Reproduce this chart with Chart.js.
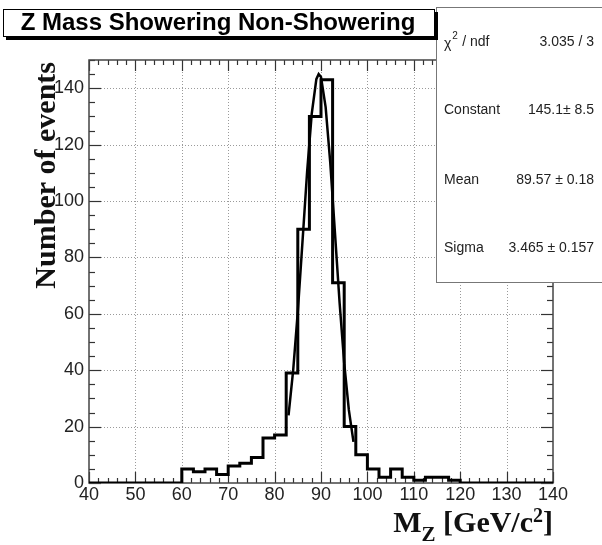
<!DOCTYPE html>
<html><head><meta charset="utf-8">
<script src="https://cdn.jsdelivr.net/npm/chart.js@4/dist/chart.umd.min.js"></script>
<style>html,body{margin:0;padding:0;background:#fff;}canvas{display:block;}</style>
</head><body>
<canvas id="c" width="602" height="545"></canvas>
<script>
// ---- data ----
const binEdges = [40,42.5,45,47.5,50,52.5,55,57.5,60,62.5,65,67.5,70,72.5,75,77.5,80,82.5,85,87.5,90,92.5,95,97.5,100,102.5,105,107.5,110,112.5,115,117.5,120,122.5,125,127.5,130,132.5,135,137.5,140];
const counts   = [0,0,0,0,0,0,0,0,5,4,5,3,6,7,9,16,17,39,90,130,143,71,20,10,5,2,5,2,1,2,2,1,0,0,0,0,0,0,0,0];
const fitMass   = [83,84,85,86,87,88,89,89.5,90,91,92,93,94,95,96,97];
const fitValues = [24.0,39.9,60.8,85.3,110.2,130.9,143.2,145.0,144.0,133.3,113.5,88.9,64.1,42.5,25.9,14.6];
const xTickLabels = [40,50,60,70,80,90,100,110,120,130,140];
const yTickLabels = [0,20,40,60,80,100,120,140];
const titleText = "Z Mass Showering Non-Showering";
const statsNames  = ["χ", "Constant", "Mean", "Sigma"];
const statsValues = ["3.035 / 3", "145.1\u00b1 8.5", "89.57 \u00b1 0.18", "3.465 \u00b1 0.157"];

// ---- build datasets ----
const histPoints = binEdges.map((e, i) => ({x: e, y: i < counts.length ? counts[i] : counts[counts.length - 1]}));
const fitPoints = fitMass.map((m, i) => ({x: m, y: fitValues[i]}));

const SANS = '"Liberation Sans", Arial, Helvetica, sans-serif';
const SERIF = '"Liberation Serif", "Times New Roman", serif';

const rootDecor = {
  id: 'rootDecor',
  beforeDatasetsDraw(chart) {
    const {ctx, chartArea: a, scales: {x, y}} = chart;
    ctx.save();
    // dotted grid
    ctx.strokeStyle = '#9a9a9a';
    ctx.lineWidth = 1;
    ctx.setLineDash([1, 2]);
    xTickLabels.forEach(v => {
      if (v === x.min || v === x.max) return;
      const px = Math.round(x.getPixelForValue(v)) + 0.5;
      ctx.beginPath(); ctx.moveTo(px, a.top); ctx.lineTo(px, a.bottom); ctx.stroke();
    });
    yTickLabels.forEach(v => {
      if (v === y.min) return;
      const py = Math.round(y.getPixelForValue(v)) + 0.5;
      ctx.beginPath(); ctx.moveTo(a.left, py); ctx.lineTo(a.right, py); ctx.stroke();
    });
    ctx.setLineDash([]);
    // ticks
    ctx.strokeStyle = '#333';
    ctx.lineWidth = 1.2;
    const xMajor = xTickLabels[1] - xTickLabels[0];
    const xMinor = xMajor / 5;
    for (let v = x.min; v <= x.max + 1e-9; v += xMinor) {
      const isMaj = Math.abs(v / xMajor - Math.round(v / xMajor)) < 1e-6;
      const len = isMaj ? 11 : 5;
      const px = Math.round(x.getPixelForValue(v)) + 0.5;
      ctx.beginPath(); ctx.moveTo(px, a.bottom); ctx.lineTo(px, a.bottom - len); ctx.stroke();
      ctx.beginPath(); ctx.moveTo(px, a.top); ctx.lineTo(px, a.top + len); ctx.stroke();
    }
    const yMajor = yTickLabels[1] - yTickLabels[0];
    const yMinor = yMajor / 4;
    for (let v = y.min; v <= y.max + 1e-9; v += yMinor) {
      const isMaj = Math.abs(v / yMajor - Math.round(v / yMajor)) < 1e-6;
      const len = isMaj ? 12 : 6;
      const py = Math.round(y.getPixelForValue(v)) + 0.5;
      ctx.beginPath(); ctx.moveTo(a.left, py); ctx.lineTo(a.left + len, py); ctx.stroke();
      ctx.beginPath(); ctx.moveTo(a.right, py); ctx.lineTo(a.right - len, py); ctx.stroke();
    }
    // frame
    ctx.strokeStyle = '#444';
    ctx.lineWidth = 1.5;
    ctx.strokeRect(a.left, a.top, a.right - a.left, a.bottom - a.top);
    ctx.restore();
  },
  afterDraw(chart) {
    const {ctx} = chart;
    ctx.save();
    // stats box
    ctx.fillStyle = '#fff';
    ctx.fillRect(436, 7, 200, 275);
    ctx.strokeStyle = '#777';
    ctx.lineWidth = 1;
    ctx.strokeRect(436.5, 7.5, 200, 275);
    ctx.fillStyle = '#222';
    ctx.textBaseline = 'middle';
    const rowsY = [42, 110, 180, 248];
    statsNames.forEach((n, i) => {
      ctx.font = '14px ' + SANS;
      ctx.textAlign = 'left';
      if (i === 0) {
        ctx.fillText(n, 444, rowsY[i] + 2);
        const w = ctx.measureText(n).width;
        ctx.font = '10px ' + SANS;
        ctx.fillText('2', 444 + w + 1, rowsY[i] - 6);
        ctx.font = '14px ' + SANS;
        ctx.fillText(' / ndf', 444 + w + 7, rowsY[i]);
      } else {
        ctx.fillText(n, 444, rowsY[i]);
      }
      ctx.textAlign = 'right';
      ctx.fillText(statsValues[i], 594, rowsY[i]);
    });
    // title box with shadow
    ctx.fillStyle = '#000';
    ctx.fillRect(6, 12, 432, 28);
    ctx.fillStyle = '#fff';
    ctx.fillRect(3, 9, 432, 28);
    ctx.strokeStyle = '#000';
    ctx.lineWidth = 1;
    ctx.strokeRect(3.5, 9.5, 431, 27);
    ctx.fillStyle = '#000';
    ctx.font = 'bold 24px ' + SANS;
    ctx.textAlign = 'center';
    ctx.textBaseline = 'middle';
    ctx.fillText(titleText, 218, 23);
    // y axis title
    ctx.save();
    ctx.translate(55, 62);
    ctx.rotate(-Math.PI / 2);
    ctx.font = 'bold 30px ' + SERIF;
    ctx.textAlign = 'right';
    ctx.textBaseline = 'alphabetic';
    ctx.fillStyle = '#111';
    ctx.fillText('Number of events', 0, 0);
    ctx.restore();
    // x axis title: M_Z [GeV/c^2]
    const parts = [
      {t: 'M', f: 'bold 30px ' + SERIF, dy: 0},
      {t: 'Z', f: 'bold 21px ' + SERIF, dy: 9},
      {t: ' [GeV/c', f: 'bold 30px ' + SERIF, dy: 0},
      {t: '2', f: 'bold 20px ' + SERIF, dy: -10},
      {t: ']', f: 'bold 30px ' + SERIF, dy: 0}
    ];
    let total = 0;
    parts.forEach(p => { ctx.font = p.f; p.w = ctx.measureText(p.t).width; total += p.w; });
    let cx = 553 - total;
    ctx.textAlign = 'left';
    ctx.textBaseline = 'alphabetic';
    ctx.fillStyle = '#111';
    parts.forEach(p => { ctx.font = p.f; ctx.fillText(p.t, cx, 532 + p.dy); cx += p.w; });
    ctx.restore();
  }
};

new Chart(document.getElementById('c').getContext('2d'), {
  type: 'line',
  data: {
    datasets: [
      {label: 'hist', data: histPoints, stepped: 'before', borderColor: '#000', borderWidth: 3,
       pointRadius: 0, fill: false, borderJoinStyle: 'miter'},
      {label: 'fit', data: fitPoints, borderColor: '#000', borderWidth: 2.5, pointRadius: 0,
       fill: false, tension: 0}
    ]
  },
  options: {
    responsive: false,
    animation: false,
    events: [],
    layout: {padding: {left: 0, top: 60, right: 49, bottom: 0}},
    plugins: {legend: {display: false}, tooltip: {enabled: false}, title: {display: false}},
    scales: {
      x: {
        type: 'linear', min: 40, max: 140,
        afterBuildTicks: s => { s.ticks = xTickLabels.map(v => ({value: v})); },
        afterFit: s => { s.height = 62; },
        ticks: {font: {family: SANS, size: 18}, color: '#222', padding: 1, maxRotation: 0, autoSkip: false},
        grid: {display: false, drawTicks: false},
        border: {display: false}
      },
      y: {
        type: 'linear', min: 0, max: 150,
        afterBuildTicks: s => { s.ticks = yTickLabels.map(v => ({value: v})); },
        afterFit: s => { s.width = 89; },
        ticks: {font: {family: SANS, size: 18}, color: '#222', padding: 5, autoSkip: false},
        grid: {display: false, drawTicks: false},
        border: {display: false}
      }
    }
  },
  plugins: [rootDecor]
});
</script>
</body></html>
